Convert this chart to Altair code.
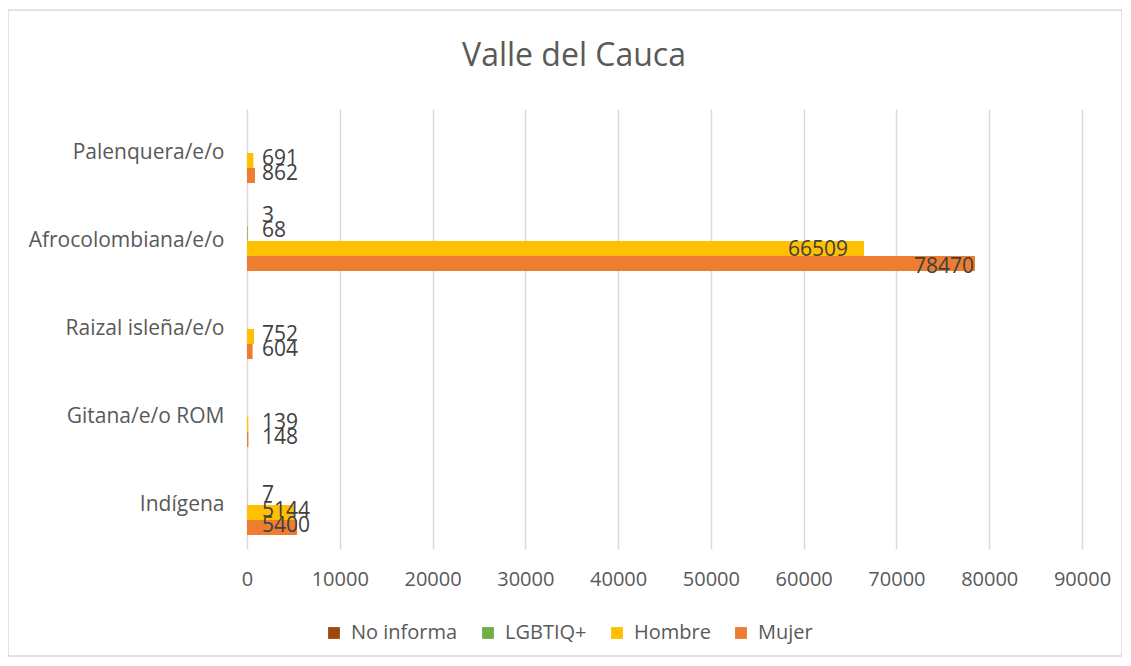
import altair as alt
import pandas as pd

categories = ["Palenquera/e/o", "Afrocolombiana/e/o", "Raizal isleña/e/o", "Gitana/e/o ROM", "Indígena"]
series = ["No informa", "LGBTIQ+", "Hombre", "Mujer"]
colors = ["#9E480E", "#70AD47", "#FFC000", "#ED7D31"]

no_informa = [None, 3, None, None, None]
lgbtiq = [None, 68, None, None, 7]
hombre = [691, 66509, 752, 139, 5144]
mujer = [862, 78470, 604, 148, 5400]

x_ticks = [0, 10000, 20000, 30000, 40000, 50000, 60000, 70000, 80000, 90000]
chart_title = "Valle del Cauca"

rows = []
for s, vals in zip(series, [no_informa, lgbtiq, hombre, mujer]):
    for c, v in zip(categories, vals):
        if v is not None:
            rows.append({"categoria": c, "serie": s, "valor": v})
df = pd.DataFrame(rows)

FONT = "Open Sans"
TXT = "#595959"
LBL = "#404040"

y_enc = alt.Y("categoria:N", sort=categories, title=None,
              scale=alt.Scale(paddingInner=0.318, paddingOuter=0.159),
              axis=alt.Axis(domain=False, ticks=False, labelPadding=23, labelFontSize=21,
                            labelColor=TXT, labelFont=FONT, labelLimit=300))
yoff = alt.YOffset("serie:N", sort=series, scale=alt.Scale(domain=series))

base = alt.Chart(df)

bars = base.mark_bar().encode(
    x=alt.X("valor:Q", title=None,
            scale=alt.Scale(domain=[0, 90000], nice=False),
            axis=alt.Axis(values=x_ticks, format="d", grid=True, gridColor="#d9d9d9",
                          domain=False, ticks=False, labelPadding=20, labelFontSize=20,
                          labelColor=TXT, labelFont=FONT, labelFlush=False)),
    y=y_enc,
    yOffset=yoff,
    color=alt.Color("serie:N", sort=series,
                    scale=alt.Scale(domain=series, range=colors),
                    legend=alt.Legend(title=None, orient="none", direction="horizontal",
                                      legendX=77, legendY=514, symbolType="square",
                                      symbolSize=140, symbolStrokeWidth=0, labelFontSize=20,
                                      labelColor=TXT, labelFont=FONT, columnPadding=20,
                                      labelOffset=7, labelLimit=300)),
)

lbl_kw = dict(baseline="middle", fontSize=21, font=FONT, color=LBL)

small_labels = base.transform_filter("datum.valor < 10000").mark_text(
    align="left", dx=15, dy=-2, **lbl_kw
).encode(x=alt.datum(0), y=y_enc, yOffset=yoff, text=alt.Text("valor:Q", format="d"))

big_h = base.transform_filter("datum.valor >= 10000 && datum.serie == 'Hombre'").mark_text(
    align="right", dx=-16, dy=1, **lbl_kw
).encode(x="valor:Q", y=y_enc, yOffset=yoff, text=alt.Text("valor:Q", format="d"))

big_m = base.transform_filter("datum.valor >= 10000 && datum.serie == 'Mujer'").mark_text(
    align="right", dx=-1, dy=3, **lbl_kw
).encode(x="valor:Q", y=y_enc, yOffset=yoff, text=alt.Text("valor:Q", format="d"))

aux = pd.DataFrame({"t": [chart_title]})

frame = alt.Chart(aux).mark_rect(
    fill=None, stroke="#d9d9d9", strokeWidth=1.5
).encode(x=alt.value(-239), x2=alt.value(875), y=alt.value(-99), y2=alt.value(547))

title = alt.Chart(aux).mark_text(
    align="center", baseline="middle", fontSize=32, font=FONT, color=TXT
).encode(x=alt.value(327), y=alt.value(-53), text="t:N")

chart = alt.layer(frame, title, bars, small_labels, big_h, big_m).properties(
    width=835, height=440,
    padding={"left": 239, "top": 101, "right": 40, "bottom": 108},
    autosize=alt.AutoSizeParams(type="none"),
).configure_view(stroke=None).configure_axis(gridWidth=1.5)

chart.save("out.html", embed_options={"renderer": "svg", "actions": False})
